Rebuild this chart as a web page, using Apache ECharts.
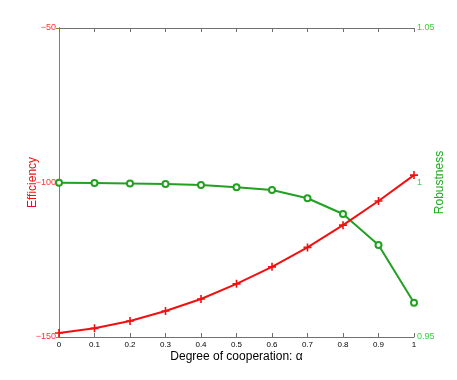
<!DOCTYPE html>
<html>
<head>
<meta charset="utf-8">
<script src="https://cdn.jsdelivr.net/npm/echarts@6/dist/echarts.min.js"></script>
<style>
  html, body { margin: 0; padding: 0; background: #fff; }
  #chart { width: 457px; height: 380px; }
</style>
</head>
<body>
<div id="chart"></div>
<script>
  // 合作程度
  var alphaData = [0, 0.1, 0.2, 0.3, 0.4, 0.5, 0.6, 0.7, 0.8, 0.9, 1];
  var efficiencyData = [-148.7, -147.2, -144.8, -141.6, -137.7, -132.8, -127.3, -121.0, -113.8, -106.0, -97.6];
  var robustnessData = [0.9999, 0.9998, 0.9997, 0.9995, 0.9992, 0.9985, 0.9976, 0.9949, 0.9898, 0.9798, 0.9611];

  function pairs(ys) {
    return alphaData.map(function (x, i) { return [x, ys[i]]; });
  }
  function minusSign(v) {
    return String(+v.toFixed(2)).replace('-', '\u2212');
  }

  var myChart = echarts.init(document.getElementById('chart'));
  myChart.setOption({
    animation: false,
    textStyle: { fontFamily: 'Liberation Sans, Arial, sans-serif' },
    grid: { left: 59, right: 43, top: 28, bottom: 43, containLabel: false, outerBoundsMode: 'none' },
    xAxis: [{
      type: 'value',
      position: 'bottom',
      min: 0, max: 1, interval: 0.1,
      name: 'Degree of cooperation: \u03b1',
      nameLocation: 'middle',
      nameGap: 14,
      nameMoveOverlap: false,
      nameTextStyle: { color: '#000', fontSize: 12 },
      axisLine: { lineStyle: { color: '#707070', width: 1 } },
      axisTick: { inside: true, length: 4, lineStyle: { color: '#707070' } },
      axisLabel: { color: '#000', fontSize: 8, margin: 4, formatter: function (v) { return String(+v.toFixed(1)); } },
      splitLine: { show: false }
    }, {
      type: 'value',
      position: 'top',
      min: 0, max: 1, interval: 0.1,
      axisLine: { lineStyle: { color: '#707070', width: 1 } },
      axisTick: { inside: true, length: 4, lineStyle: { color: '#707070' } },
      axisLabel: { show: false },
      splitLine: { show: false }
    }],
    yAxis: [{
      type: 'value',
      position: 'left',
      min: -150, max: -50, interval: 50,
      name: 'Efficiency',
      nameLocation: 'middle',
      nameGap: 20,
      nameMoveOverlap: false,
      nameTextStyle: { color: '#ee1111', fontSize: 12 },
      axisLine: { show: true, lineStyle: { color: '#e02020', width: 1 } },
      axisTick: { show: false },
      axisLabel: { color: '#ff3030', fontSize: 9, margin: 3, formatter: minusSign },
      splitLine: { show: false }
    }, {
      type: 'value',
      position: 'right',
      min: 0.95, max: 1.05, interval: 0.05,
      name: 'Robustness',
      nameLocation: 'middle',
      nameGap: 20,
      nameMoveOverlap: false,
      nameRotate: 90,
      nameTextStyle: { color: '#22aa22', fontSize: 12 },
      axisLine: { show: true, lineStyle: { color: '#8a8a1a', width: 1 } },
      axisTick: { show: true, inside: true, length: 3, lineStyle: { color: '#8a8a1a' } },
      axisLabel: { color: '#44cc44', fontSize: 9, margin: 3, formatter: minusSign },
      splitLine: { show: false }
    }],
    series: [{
      name: 'Efficiency',
      type: 'line',
      xAxisIndex: 0,
      yAxisIndex: 0,
      data: pairs(efficiencyData),
      lineStyle: { color: '#f01010', width: 2 },
      itemStyle: { color: '#f01010' },
      symbol: 'path://M4,0h2v4h4v2h-4v4h-2v-4h-4v-2h4z',
      symbolSize: 8,
      z: 3
    }, {
      name: 'Robustness',
      type: 'line',
      xAxisIndex: 0,
      yAxisIndex: 1,
      data: pairs(robustnessData),
      lineStyle: { color: '#22a022', width: 2 },
      itemStyle: { color: '#22a022', borderColor: '#22a022', borderWidth: 2 },
      symbol: 'emptyCircle',
      symbolSize: 6,
      z: 2
    }]
  });
  window.addEventListener('resize', function () {
    myChart.resize();
  });
</script>
</body>
</html>
